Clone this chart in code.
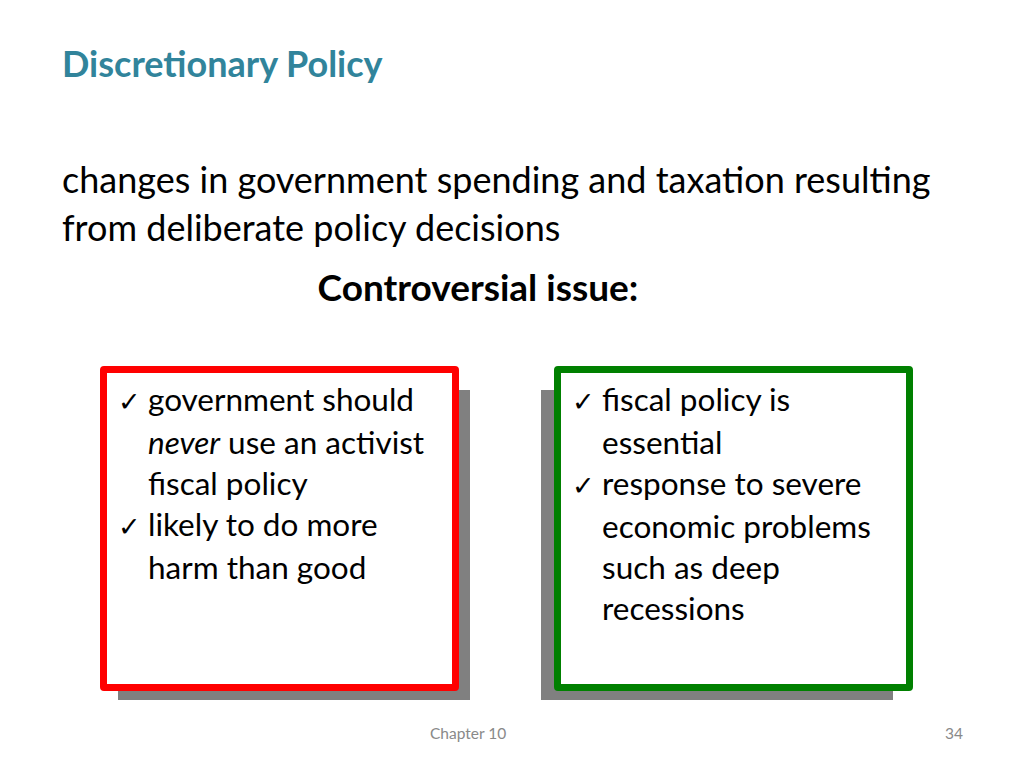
<!DOCTYPE html>
<html><head><meta charset="utf-8">
<script src="https://cdn.jsdelivr.net/npm/chart.js"></script>
<style>
body{margin:0;width:1024px;height:768px;background:#fff;font-family:Lato,"Open Sans",sans-serif;position:relative;overflow:hidden}
.abs{position:absolute}
#title{left:62px;top:41px;font-size:36px;font-weight:bold;color:#31849B}
#body{left:62px;top:155px;font-size:36px;line-height:48px;color:#000}
#issue{left:0;width:956px;top:264px;text-align:center;font-size:37px;font-weight:bold}
.shadow{background:#808080}
.box{background:#fff;border:7px solid;border-radius:4px;box-sizing:border-box;padding:6px 6px 0 11px;font-size:31.5px;line-height:41px}
.box div{padding-left:30px;text-indent:-30px}
.box div span.ck{display:inline-block;width:30px;text-indent:0;font-weight:bold;font-family:"DejaVu Sans";font-size:27px}
.foot{font-size:15.5px;color:#898989;top:724px}
</style></head><body>
<div id="title" class="abs"></div>
<div id="body" class="abs"></div>
<div id="issue" class="abs"></div>
<div class="abs shadow" style="left:118px;top:390px;width:352px;height:310px"></div>
<div id="left" class="abs box" style="left:100px;top:366px;width:359px;height:325px;border-color:#ff0000"></div>
<div class="abs shadow" style="left:541px;top:390px;width:352px;height:310px"></div>
<div id="right" class="abs box" style="left:554px;top:366px;width:359px;height:325px;border-color:#008000"></div>
<div class="abs foot" style="left:430px">Chapter 10</div>
<div class="abs foot" style="left:945px">34</div>
<script>
const titleText = 'Discretionary Policy';
const bodyLines = ['changes in government spending and taxation resulting', 'from deliberate policy decisions'];
const issueText = 'Controversial issue:';
const leftItems = ['government should <i>never</i> use an activist fiscal policy', 'likely to do more harm than good'];
const rightItems = ['fiscal policy is essential', 'response to severe economic problems such as deep recessions'];

document.getElementById('title').textContent = titleText;
document.getElementById('body').innerHTML = bodyLines.join('<br>');
document.getElementById('issue').textContent = issueText;
const fill = (id, items) => {
  document.getElementById(id).innerHTML = items.map(t => '<div><span class="ck">✓</span>' + t + '</div>').join('');
};
fill('left', leftItems);
fill('right', rightItems);
</script>
</body></html>
